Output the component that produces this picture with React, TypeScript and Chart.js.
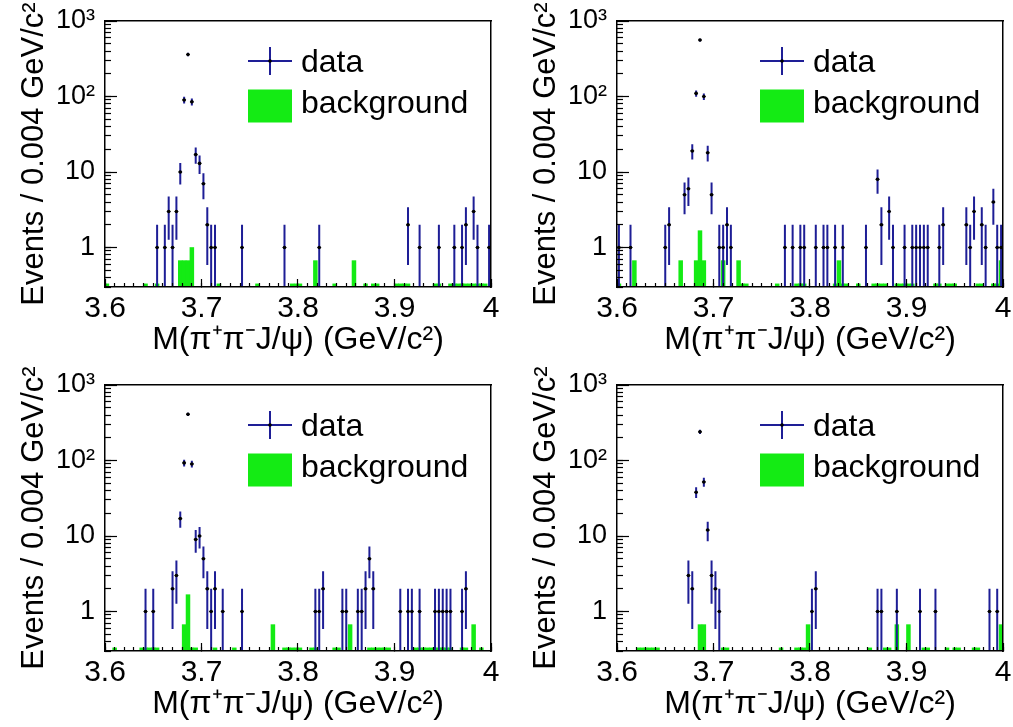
import React, { useEffect, useRef } from 'react';
import { Chart, registerables } from 'chart.js';

Chart.register(...registerables);

// ---------------- axes / labels ----------------
const X_MIN = 3.6;
const X_MAX = 4.0;
const BIN_WIDTH = 0.004;
const Y_MIN = 0.3;
const Y_MAX = 1000;
const X_MAJOR_TICKS = [3.6, 3.7, 3.8, 3.9, 4.0];
const X_TICK_LABELS = ['3.6', '3.7', '3.8', '3.9', '4'];
const Y_MAJOR_TICKS = [1, 10, 100, 1000];
const Y_TICK_LABELS = ['1', '10', '10²', '10³'];
const X_TITLE = 'M(π⁺π⁻J/ψ) (GeV/c²)';
const Y_TITLE = 'Events / 0.004 GeV/c²';
const LEGEND_LABELS = ['data', 'background'];

// ---------------- panel 1 (top left) ----------------
const P1_DATA_MASS = [3.654, 3.662, 3.666, 3.670, 3.674, 3.678, 3.682, 3.686, 3.690, 3.694, 3.698, 3.702, 3.706, 3.710, 3.714, 3.742, 3.786, 3.822, 3.914, 3.926, 3.946, 3.962, 3.970, 3.974, 3.982, 3.986, 3.998];
const P1_DATA_COUNTS = [1, 1, 3, 1, 3, 10, 90, 360, 85, 17, 13, 7, 2, 1, 1, 1, 1, 1, 2, 1, 1, 1, 1, 2, 3, 1, 1];
const P1_BKG_MASS = [3.602, 3.642, 3.654, 3.678, 3.682, 3.686, 3.690, 3.718, 3.758, 3.794, 3.798, 3.802, 3.818, 3.838, 3.858, 3.870, 3.878, 3.882, 3.902, 3.906, 3.910, 3.914, 3.942, 3.946, 3.958, 3.962, 3.966, 3.970, 3.974, 3.978, 3.982, 3.986, 3.990, 3.994];
const P1_BKG_VALUES = [0.33, 0.33, 0.33, 0.67, 0.67, 0.67, 1.0, 0.33, 0.33, 0.33, 0.33, 0.33, 0.67, 0.33, 0.67, 0.33, 0.33, 0.33, 0.33, 0.33, 0.33, 0.33, 0.33, 0.33, 0.33, 0.33, 0.33, 0.33, 0.33, 0.33, 0.33, 0.33, 0.33, 0.33];

// ---------------- panel 2 (top right) ----------------
const P2_DATA_MASS = [3.602, 3.614, 3.650, 3.654, 3.670, 3.674, 3.678, 3.682, 3.686, 3.690, 3.694, 3.698, 3.706, 3.710, 3.714, 3.718, 3.774, 3.782, 3.790, 3.794, 3.806, 3.814, 3.818, 3.826, 3.834, 3.858, 3.870, 3.874, 3.882, 3.886, 3.898, 3.906, 3.910, 3.914, 3.918, 3.922, 3.934, 3.938, 3.962, 3.966, 3.970, 3.978, 3.982, 3.990, 3.994, 3.998];
const P2_DATA_COUNTS = [1, 1, 1, 2, 5, 6, 19, 110, 560, 100, 18, 5, 1, 1, 2, 1, 1, 1, 1, 1, 1, 1, 1, 1, 1, 1, 8, 2, 3, 1, 1, 1, 1, 1, 1, 1, 1, 2, 2, 1, 3, 2, 1, 4, 1, 1];
const P2_BKG_MASS = [3.602, 3.618, 3.666, 3.682, 3.686, 3.690, 3.710, 3.726, 3.730, 3.734, 3.766, 3.786, 3.790, 3.794, 3.826, 3.830, 3.834, 3.838, 3.850, 3.866, 3.870, 3.874, 3.878, 3.890, 3.894, 3.898, 3.902, 3.906, 3.930, 3.934, 3.942, 3.946, 3.950, 3.974, 3.978, 3.990, 3.994, 3.998];
const P2_BKG_VALUES = [0.33, 0.67, 0.67, 0.67, 1.67, 0.67, 0.67, 0.67, 0.33, 0.33, 0.33, 0.33, 0.33, 0.33, 0.33, 0.67, 0.33, 0.33, 0.33, 0.33, 0.33, 0.33, 0.33, 0.33, 0.33, 0.33, 0.33, 0.33, 0.33, 0.33, 0.33, 0.33, 0.33, 0.33, 0.33, 0.33, 0.33, 0.67];

// ---------------- panel 3 (bottom left) ----------------
const P3_DATA_MASS = [3.642, 3.650, 3.670, 3.674, 3.678, 3.682, 3.686, 3.690, 3.694, 3.698, 3.702, 3.706, 3.710, 3.714, 3.722, 3.742, 3.818, 3.822, 3.826, 3.846, 3.850, 3.862, 3.866, 3.870, 3.874, 3.878, 3.906, 3.914, 3.918, 3.926, 3.942, 3.946, 3.950, 3.954, 3.958, 3.970, 3.974];
const P3_DATA_COUNTS = [1, 1, 2, 3, 17, 93, 410, 90, 9, 10, 5, 2, 1, 2, 1, 1, 1, 1, 2, 1, 1, 1, 1, 2, 5, 2, 1, 1, 1, 1, 1, 1, 1, 1, 1, 1, 2];
const P3_BKG_MASS = [3.610, 3.638, 3.642, 3.646, 3.650, 3.654, 3.682, 3.686, 3.690, 3.694, 3.714, 3.734, 3.774, 3.786, 3.790, 3.794, 3.798, 3.802, 3.814, 3.818, 3.838, 3.842, 3.854, 3.874, 3.878, 3.882, 3.886, 3.890, 3.894, 3.922, 3.926, 3.930, 3.934, 3.938, 3.942, 3.946, 3.950, 3.954, 3.958, 3.970, 3.974, 3.982, 3.990];
const P3_BKG_VALUES = [0.33, 0.33, 0.33, 0.33, 0.33, 0.33, 0.67, 1.67, 0.33, 0.33, 0.33, 0.33, 0.67, 0.33, 0.33, 0.33, 0.33, 0.33, 0.33, 0.33, 0.33, 0.33, 0.67, 0.33, 0.33, 0.33, 0.33, 0.33, 0.33, 0.33, 0.33, 0.33, 0.33, 0.33, 0.33, 0.33, 0.33, 0.33, 0.33, 0.33, 0.33, 0.67, 0.33];

// ---------------- panel 4 (bottom right) ----------------
const P4_DATA_MASS = [3.674, 3.678, 3.682, 3.686, 3.690, 3.694, 3.698, 3.702, 3.706, 3.802, 3.806, 3.870, 3.874, 3.890, 3.914, 3.930, 3.986, 3.994];
const P4_DATA_COUNTS = [3, 2, 38, 240, 52, 12, 3, 2, 1, 1, 2, 1, 1, 1, 1, 1, 1, 1];
const P4_BKG_MASS = [3.622, 3.626, 3.630, 3.634, 3.638, 3.642, 3.686, 3.690, 3.710, 3.714, 3.770, 3.786, 3.790, 3.794, 3.798, 3.862, 3.878, 3.882, 3.890, 3.902, 3.918, 3.922, 3.942, 3.950, 3.954, 3.970, 3.974, 3.998];
const P4_BKG_VALUES = [0.33, 0.33, 0.33, 0.33, 0.33, 0.33, 0.67, 0.67, 0.33, 0.33, 0.33, 0.33, 0.33, 0.33, 0.67, 0.33, 0.33, 0.33, 0.67, 0.67, 0.33, 0.33, 0.33, 0.33, 0.33, 0.33, 0.33, 0.67];

// ---------------- styles ----------------
const FONT = "'Liberation Sans', Arial, Helvetica, sans-serif";
const INK = '#000000';
const DATA_COLOR = '#1e1e96';
const XERR_COLOR = '#333333';
const BKG_COLOR = '#14eb14';

type PanelData = { dataMass: number[]; dataCounts: number[]; bkgMass: number[]; bkgValues: number[] };

const PANELS: PanelData[] = [
  { dataMass: P1_DATA_MASS, dataCounts: P1_DATA_COUNTS, bkgMass: P1_BKG_MASS, bkgValues: P1_BKG_VALUES },
  { dataMass: P2_DATA_MASS, dataCounts: P2_DATA_COUNTS, bkgMass: P2_BKG_MASS, bkgValues: P2_BKG_VALUES },
  { dataMass: P3_DATA_MASS, dataCounts: P3_DATA_COUNTS, bkgMass: P3_BKG_MASS, bkgValues: P3_BKG_VALUES },
  { dataMass: P4_DATA_MASS, dataCounts: P4_DATA_COUNTS, bkgMass: P4_BKG_MASS, bkgValues: P4_BKG_VALUES },
];

function binCenters(): number[] {
  const n = Math.round((X_MAX - X_MIN) / BIN_WIDTH);
  return Array.from({ length: n }, (_, i) => +(X_MIN + (i + 0.5) * BIN_WIDTH).toFixed(4));
}

function minorX(): number[] {
  const out: number[] = [];
  const n = Math.round((X_MAX - X_MIN) / 0.01);
  for (let k = 0; k <= n; k++) out.push(+(X_MIN + k * 0.01).toFixed(3));
  return out;
}

function minorY(): number[] {
  const out: number[] = [];
  for (let d = 0.1; d < Y_MAX; d *= 10) {
    for (let m = 1; m <= 9; m++) {
      const v = +(m * d).toPrecision(3);
      if (v >= Y_MIN && v <= Y_MAX) out.push(v);
    }
  }
  return out;
}

function buildDatasets(p: PanelData): any[] {
  const bkg = binCenters().map((x) => {
    const k = p.bkgMass.findIndex((m) => Math.abs(m - x) < 1e-6);
    return { x, y: k >= 0 ? p.bkgValues[k] : null };
  });
  const vert: any[] = [];
  const horiz: any[] = [];
  const pts: any[] = [];
  p.dataMass.forEach((x, i) => {
    const n = p.dataCounts[i];
    const e = Math.sqrt(n);
    vert.push({ x, y: Math.max(n - e, 0.01) }, { x, y: n + e }, { x, y: null });
    horiz.push({ x: x - BIN_WIDTH / 2, y: n }, { x: x + BIN_WIDTH / 2, y: n }, { x, y: null });
    pts.push({ x, y: n });
  });
  return [
    {
      type: 'bar', label: LEGEND_LABELS[1], data: bkg, backgroundColor: BKG_COLOR, borderWidth: 0,
      barPercentage: 1, categoryPercentage: 1, grouped: false, order: 3, legendRole: 'background',
    },
    {
      type: 'line', label: LEGEND_LABELS[0], data: vert, borderColor: DATA_COLOR, borderWidth: 2,
      pointRadius: 0, spanGaps: false, fill: false, tension: 0, order: 2, legendRole: 'data',
    },
    {
      type: 'line', label: 'x error', data: horiz, borderColor: XERR_COLOR, borderWidth: 1.2,
      pointRadius: 0, spanGaps: false, fill: false, tension: 0, order: 1,
    },
    {
      type: 'scatter', label: 'marker', data: pts, pointRadius: 1.8, pointBackgroundColor: '#000',
      pointBorderWidth: 0, showLine: false, order: 0,
    },
  ];
}

const rootLegend = {
  id: 'rootLegend',
  afterDraw(chart: any) {
    const { ctx, chartArea: a } = chart;
    const ds = chart.data.datasets;
    const dataDs = ds.find((d: any) => d.legendRole === 'data');
    const bkgDs = ds.find((d: any) => d.legendRole === 'background');
    ctx.save();
    const cx = a.left + 165;
    const cy = a.top + 40;
    ctx.strokeStyle = dataDs.borderColor;
    ctx.lineWidth = 2;
    ctx.beginPath();
    ctx.moveTo(cx - 22, cy);
    ctx.lineTo(cx + 22, cy);
    ctx.moveTo(cx, cy - 14);
    ctx.lineTo(cx, cy + 14);
    ctx.stroke();
    ctx.fillStyle = '#000';
    ctx.beginPath();
    ctx.arc(cx, cy, 1.8, 0, Math.PI * 2);
    ctx.fill();
    ctx.fillStyle = bkgDs.backgroundColor;
    ctx.fillRect(a.left + 143, a.top + 68.5, 44, 33);
    ctx.fillStyle = INK;
    ctx.font = `32px ${FONT}`;
    ctx.textAlign = 'left';
    ctx.textBaseline = 'alphabetic';
    ctx.fillText(dataDs.label, a.left + 196, a.top + 51);
    ctx.fillText(bkgDs.label, a.left + 196, a.top + 92);
    ctx.restore();
  },
};

function lookup(ticks: number[], labels: string[], v: number): string {
  const i = ticks.findIndex((t) => Math.abs(t - v) < 1e-9 * Math.max(1, Math.abs(t)));
  return i >= 0 ? labels[i] : '';
}

function fixSize(dim: 'width' | 'height', size: number) {
  return (s: any) => {
    s[dim] = size;
    s.paddingTop = 0;
    s.paddingBottom = 0;
    s.paddingLeft = 0;
    s.paddingRight = 0;
  };
}

function makeOptions(): any {
  const frameBorder = { display: true, color: INK, width: 1.5, z: 2 };
  return {
    responsive: false,
    animation: false,
    devicePixelRatio: 1,
    events: [],
    layout: { padding: { top: 21, right: 15, left: 0, bottom: 0 }, autoPadding: false },
    plugins: { legend: { display: false }, tooltip: { enabled: false } },
    scales: {
      x: {
        type: 'linear', position: 'bottom', min: X_MIN, max: X_MAX, weight: 1, offset: false,
        afterBuildTicks: (s: any) => { s.ticks = X_MAJOR_TICKS.map((v) => ({ value: v })); },
        ticks: {
          autoSkip: false, maxRotation: 0, minRotation: 0, padding: 12, color: INK,
          font: { family: FONT, size: 30 },
          callback: (v: number) => lookup(X_MAJOR_TICKS, X_TICK_LABELS, v),
        },
        grid: { drawOnChartArea: false, offset: false, tickLength: -8, tickColor: INK, tickWidth: 1.2, z: 1 },
        border: frameBorder,
        title: { display: true, text: X_TITLE, color: INK, font: { family: FONT, size: 32 }, padding: { top: 0, bottom: 4 } },
        afterFit: fixSize('height', 76),
      },
      xMinor: {
        type: 'linear', position: 'bottom', min: X_MIN, max: X_MAX, weight: 0, offset: false,
        afterBuildTicks: (s: any) => { s.ticks = minorX().map((v) => ({ value: v })); },
        ticks: { display: false },
        grid: { drawOnChartArea: false, offset: false, tickLength: -4, tickColor: INK, tickWidth: 1.2, z: 1 },
        border: { display: false },
        afterFit: fixSize('height', 0),
      },
      xTop: {
        type: 'linear', position: 'top', min: X_MIN, max: X_MAX, offset: false,
        ticks: { display: false },
        grid: { drawOnChartArea: false, drawTicks: false, offset: false, z: 1 },
        border: frameBorder,
        afterFit: fixSize('height', 0),
      },
      y: {
        type: 'logarithmic', position: 'left', min: Y_MIN, max: Y_MAX, weight: 1,
        afterBuildTicks: (s: any) => { s.ticks = Y_MAJOR_TICKS.map((v) => ({ value: v })); },
        ticks: {
          autoSkip: false, padding: 22, color: INK, font: { family: FONT, size: 27 },
          callback: (v: number) => lookup(Y_MAJOR_TICKS, Y_TICK_LABELS, v),
        },
        grid: { drawOnChartArea: false, tickLength: -12, tickColor: INK, tickWidth: 1.2, z: 1 },
        border: frameBorder,
        title: { display: true, text: Y_TITLE, color: INK, font: { family: FONT, size: 31 }, padding: { top: 16, bottom: 0 } },
        afterFit: fixSize('width', 105),
      },
      yMinor: {
        type: 'logarithmic', position: 'left', min: Y_MIN, max: Y_MAX, weight: 0,
        afterBuildTicks: (s: any) => { s.ticks = minorY().map((v) => ({ value: v })); },
        ticks: { display: false },
        grid: { drawOnChartArea: false, tickLength: -6, tickColor: INK, tickWidth: 1.2, z: 1 },
        border: { display: false },
        afterFit: fixSize('width', 0),
      },
      yRight: {
        type: 'logarithmic', position: 'right', min: Y_MIN, max: Y_MAX,
        ticks: { display: false },
        grid: { drawOnChartArea: false, drawTicks: false, z: 1 },
        border: frameBorder,
        afterFit: fixSize('width', 0),
      },
    },
  };
}

function HistPanel({ panel }: { panel: PanelData }) {
  const ref = useRef<HTMLCanvasElement>(null);
  useEffect(() => {
    if (!ref.current) return;
    const chart = new Chart(ref.current, {
      type: 'bar',
      data: { datasets: buildDatasets(panel) },
      options: makeOptions(),
      plugins: [rootLegend as any],
    } as any);
    return () => chart.destroy();
  }, [panel]);
  return <canvas ref={ref} width={506} height={363} style={{ display: 'block' }} />;
}

export default function App() {
  return (
    <div style={{ position: 'absolute', left: 0, top: 0, width: 1013, height: 727, overflow: 'hidden', background: '#ffffff' }}>
      {PANELS.map((p, i) => (
        <div key={i} style={{ position: 'absolute', left: (i % 2) * 512, top: Math.floor(i / 2) * 364 }}>
          <HistPanel panel={p} />
        </div>
      ))}
    </div>
  );
}
